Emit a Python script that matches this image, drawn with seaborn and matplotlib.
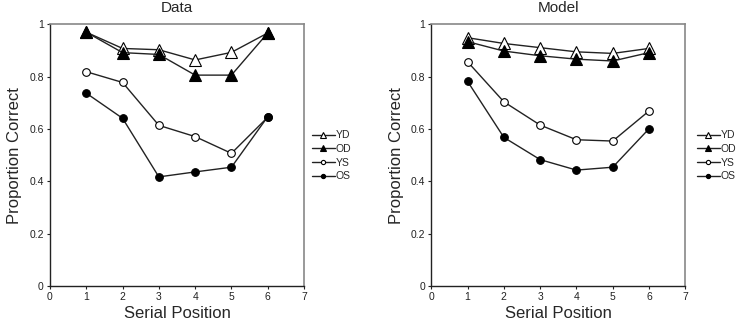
import matplotlib
matplotlib.use('Agg')
import matplotlib.pyplot as plt
import pandas as pd
import seaborn as sns

positions = [1, 2, 3, 4, 5, 6]
groups = ["YD", "OD", "YS", "OS"]

data_yd = [0.970, 0.908, 0.903, 0.864, 0.893, 0.967]
data_od = [0.970, 0.892, 0.885, 0.806, 0.806, 0.967]
data_ys = [0.819, 0.778, 0.614, 0.571, 0.507, 0.645]
data_os = [0.737, 0.641, 0.417, 0.436, 0.454, 0.647]

model_yd = [0.949, 0.927, 0.911, 0.895, 0.889, 0.908]
model_od = [0.934, 0.898, 0.880, 0.867, 0.860, 0.892]
model_ys = [0.857, 0.704, 0.615, 0.559, 0.554, 0.669]
model_os = [0.782, 0.568, 0.483, 0.443, 0.454, 0.601]

styles = {
    "YD": dict(marker="^", markerfacecolor="white", markersize=8),
    "OD": dict(marker="^", markerfacecolor="black", markersize=8),
    "YS": dict(marker="o", markerfacecolor="white", markersize=5.5),
    "OS": dict(marker="o", markerfacecolor="black", markersize=5.5),
}


def long_df(yd, od, ys, os_):
    rows = []
    for g, vals in zip(groups, [yd, od, ys, os_]):
        for p, v in zip(positions, vals):
            rows.append({"pos": p, "val": v, "group": g})
    return pd.DataFrame(rows)


df_data = long_df(data_yd, data_od, data_ys, data_os)
df_model = long_df(model_yd, model_od, model_ys, model_os)

sns.set_style("white")
plt.rcParams['font.family'] = ['Liberation Sans', 'DejaVu Sans']

fig = plt.figure(figsize=(7.44, 3.32), dpi=100)
ax1 = fig.add_axes([0.0672, 0.1386, 0.3414, 0.788])
ax2 = fig.add_axes([0.5797, 0.1386, 0.3414, 0.788])


def draw(ax, df, title, legend_x):
    for g in groups:
        sub = df[df["group"] == g]
        sns.lineplot(data=sub, x="pos", y="val", ax=ax, color="#222222",
                     linewidth=1.0, markeredgecolor="black", markeredgewidth=0.8,
                     label=g, **styles[g])
    ax.set_xlim(0, 7)
    ax.set_ylim(0, 1)
    ax.set_xticks(range(0, 8))
    ax.set_yticks([0, 0.2, 0.4, 0.6, 0.8, 1])
    ax.set_yticklabels(["0", "0.2", "0.4", "0.6", "0.8", "1"])
    ax.tick_params(axis="both", labelsize=7.5, length=2.5, width=0.8,
                   direction="out", pad=2, colors="#222222")
    ax.tick_params(left=True, bottom=True)
    ax.set_xlabel("Serial Position", fontsize=12, labelpad=3)
    ax.set_ylabel("Proportion Correct", fontsize=12, labelpad=5)
    ax.set_title(title, fontsize=11, pad=9)
    for side in ["left", "bottom"]:
        ax.spines[side].set_color("#222222")
        ax.spines[side].set_linewidth(1.0)
    for side in ["top", "right"]:
        ax.spines[side].set_color("#888888")
        ax.spines[side].set_linewidth(1.2)
    ax.legend(loc="center left", bbox_to_anchor=(legend_x, 0.497), frameon=False,
              fontsize=7.5, handlelength=2.2, handletextpad=0.1, labelspacing=0.35,
              borderaxespad=0, borderpad=0, markerscale=0.55)


draw(ax1, df_data, "Data", 1.03)
draw(ax2, df_model, "Model", 1.045)

plt.savefig("out.png", dpi=100)
